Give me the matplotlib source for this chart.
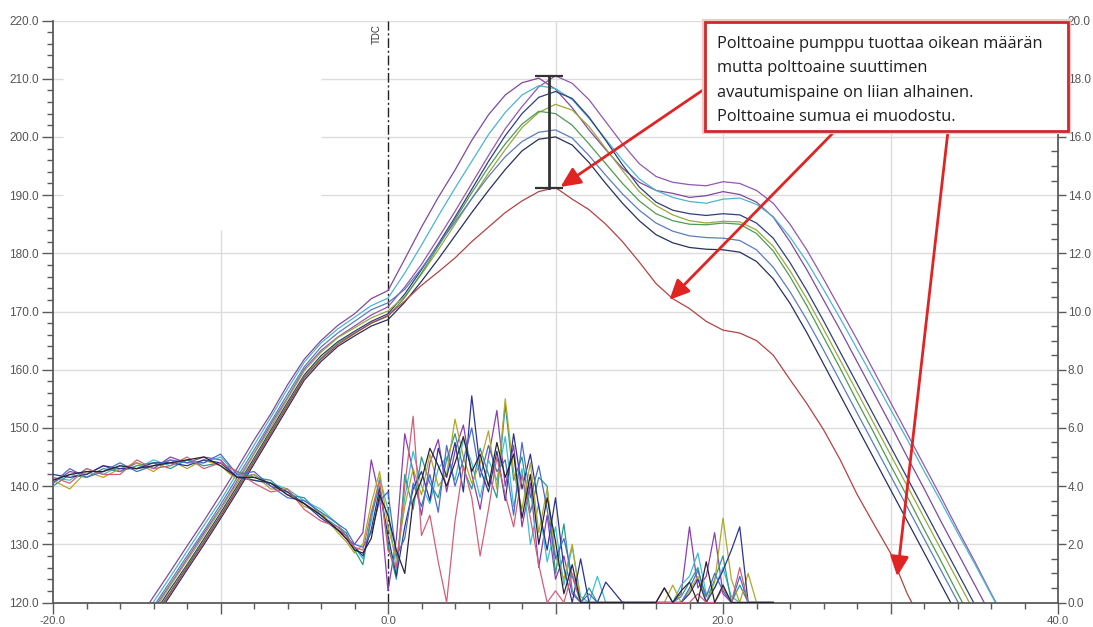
import numpy as np
import matplotlib
matplotlib.use("Agg")
import matplotlib.pyplot as plt
from matplotlib.ticker import MultipleLocator, FuncFormatter
from matplotlib.patches import Rectangle

plt.rcParams['font.family'] = ['Liberation Sans', 'DejaVu Sans']
plt.rcParams['axes.unicode_minus'] = False

# crank angle grid for the pressure traces (deg)
PX = list(range(-15, 38))

# cylinder pressure traces, left scale
p_purple = [116.6, 121.0, 125.3, 129.7, 134.0, 138.5, 143.1, 147.9, 152.4, 157.4, 161.8, 165.0, 167.6, 169.6, 172.2, 173.6,
            179.0, 184.5, 189.6, 194.3, 199.4, 203.8, 207.2, 209.3, 210.1, 208.2,
            205.0, 201.2, 197.8, 194.6, 192.2, 190.8, 190.3, 189.6, 189.9, 190.6,
            190.1, 188.8, 186.2, 182.0, 177.2, 172.0, 166.8, 161.4, 156.0, 150.6,
            145.0, 139.6, 134.0, 128.6, 123.2, 117.8, 112.4]
p_violet = [114.4, 118.9, 123.1, 127.5, 131.9, 136.2, 140.9, 145.6, 150.6, 155.2, 160.1, 163.3, 165.6, 167.5, 169.4, 170.8,
            174.2, 178.1, 182.6, 187.2, 192.0, 196.8, 201.4, 205.2, 208.6, 210.5,
            209.2, 206.4, 202.6, 198.8, 195.4, 193.2, 192.2, 191.8, 191.6, 192.3,
            192.0, 190.8, 188.6, 185.0, 180.6, 175.6, 170.4, 165.2, 159.8, 154.4,
            149.0, 143.6, 138.2, 132.6, 127.2, 121.6, 116.2]
p_cyan = [115.7, 120.1, 124.4, 128.8, 133.2, 137.5, 142.3, 147.0, 151.8, 156.7, 161.3, 164.6, 167.0, 169.0, 171.0, 172.3,
          176.6, 181.4, 186.4, 191.2, 195.8, 200.4, 204.2, 207.2, 208.8, 208.3,
          206.4, 203.2, 199.6, 196.0, 192.8, 190.8, 189.6, 188.9, 188.6, 189.3,
          189.5, 188.4, 186.3, 182.8, 178.6, 173.8, 168.8, 163.6, 158.4, 153.2,
          148.0, 142.6, 137.4, 132.0, 126.8, 121.4, 116.0]
p_navy = [113.6, 117.9, 122.3, 126.5, 130.9, 135.4, 140.0, 144.8, 149.6, 154.4, 159.1, 162.4, 164.8, 166.6, 168.3, 169.6,
          173.0, 177.2, 181.6, 186.2, 191.0, 195.8, 200.2, 204.0, 206.8, 207.8,
          206.6, 203.4, 199.4, 195.2, 191.4, 188.8, 187.4, 186.8, 186.5, 186.8,
          186.6, 185.2, 182.6, 178.4, 173.6, 168.4, 163.0, 157.6, 152.2, 146.8,
          141.4, 136.0, 130.6, 125.2, 119.8, 114.4, 109.0]
p_olive = [114.2, 118.4, 122.9, 127.2, 131.5, 136.0, 140.5, 145.5, 150.1, 155.0, 159.8, 163.0, 165.5, 167.2, 168.9, 170.1,
           172.6, 176.4, 180.6, 185.0, 189.4, 193.8, 197.8, 201.6, 204.2, 205.6,
           204.6, 201.8, 198.0, 194.2, 190.6, 188.2, 186.6, 185.6, 185.2, 185.5,
           185.4, 184.0, 181.2, 177.0, 172.2, 167.0, 161.6, 156.2, 150.8, 145.4,
           140.0, 134.6, 129.2, 123.8, 118.4, 113.0, 107.6]
p_green = [113.2, 117.6, 121.8, 126.2, 130.5, 135.0, 139.6, 144.4, 149.3, 154.0, 158.8, 162.0, 164.6, 166.3, 168.0, 169.2,
           172.4, 176.6, 181.2, 185.8, 190.4, 194.8, 198.8, 202.2, 204.4, 204.0,
           202.0, 198.8, 195.4, 192.0, 189.0, 186.8, 185.6, 185.0, 184.9, 185.2,
           185.0, 183.4, 180.4, 176.0, 171.0, 165.6, 160.2, 154.6, 149.2, 143.6,
           138.2, 132.6, 127.2, 121.6, 116.2, 110.6, 105.2]
p_steel = [115.0, 119.3, 123.6, 128.0, 132.3, 136.8, 141.5, 146.2, 151.0, 155.8, 160.5, 163.9, 166.3, 168.3, 170.3, 171.5,
           173.8, 177.4, 181.4, 185.4, 189.4, 193.2, 196.6, 199.2, 200.8, 201.2,
           199.8, 196.8, 193.4, 190.2, 187.4, 185.2, 183.8, 183.0, 182.7, 182.6,
           182.2, 180.6, 177.6, 173.4, 168.6, 163.4, 158.0, 152.6, 147.2, 141.8,
           136.4, 131.0, 125.6, 120.2, 114.8, 109.4, 104.0]
p_dark = [112.6, 116.9, 121.2, 125.6, 129.9, 134.4, 139.0, 143.8, 148.6, 153.4, 158.2, 161.4, 164.0, 165.8, 167.5, 168.6,
          171.6, 175.2, 179.0, 183.0, 187.0, 190.8, 194.4, 197.6, 199.6, 200.0,
          198.6, 195.6, 192.0, 188.6, 185.6, 183.2, 181.8, 181.0, 180.7, 180.6,
          180.2, 178.6, 175.6, 171.4, 166.4, 161.0, 155.6, 150.2, 144.8, 139.4,
          134.0, 128.6, 123.2, 117.8, 112.4, 107.0, 101.6]
p_low = [113.0, 117.3, 121.6, 126.0, 130.3, 134.8, 139.4, 144.2, 149.0, 153.8, 158.6, 161.8, 164.3, 166.2, 168.0, 169.3,
         171.8, 174.5, 176.8, 179.2, 182.0, 184.5, 187.0, 189.0, 190.6, 191.3,
         189.3, 187.5, 185.0, 182.0, 178.5, 174.8, 172.2, 170.5, 168.3, 166.8,
         166.3, 165.0, 162.5, 158.3, 154.2, 149.7, 144.5, 138.6, 133.5, 128.5,
         121.5, 116.0, 111.0, 106.0, 101.0, 96.0, 91.0]

# injector signal traces, right scale
NX = [-20, -19, -18, -17, -16, -15, -14, -13, -12, -11, -10, -9, -8, -7, -6, -5, -4, -3,
      -2.5, -2, -1.5, -1, -0.5, 0, 0.5, 1, 1.5, 2, 2.5, 3, 3.5, 4, 4.5, 5, 5.5, 6, 6.5, 7,
      7.5, 8, 8.5, 9, 9.5, 10, 10.5, 11, 11.5, 12, 12.5, 13,
      14, 15, 16, 16.5, 17, 17.5, 18, 18.5, 19, 19.5, 20, 20.5, 21, 21.5, 22, 23]

n_purple = [4.1, 4.5, 4.4, 4.7, 4.5, 4.8, 4.6, 5.0, 4.8, 5.0, 4.9, 4.3, 4.4, 4.0, 3.8, 3.4, 3.0, 2.5,
            2.2, 2.0, 2.4, 4.9, 3.6, 0.4, 2.2, 5.8, 4.5, 3.0, 4.8, 5.6, 3.8, 5.2, 6.1, 4.4, 3.2, 5.0, 6.6, 4.0,
            5.4, 2.6, 4.1, 1.2, 3.0, 0.8, 1.6, 0.3, 0.0, 0.0, 0.0, 0.0,
            0, 0, 0, 0.5, 0, 0.3, 2.6, 0.5, 0.9, 2.4, 0.3, 0, 0, 0, 0, 0]
n_cyan = [4.3, 4.2, 4.6, 4.4, 4.7, 4.6, 4.9, 4.7, 4.9, 4.8, 5.0, 4.4, 4.2, 4.1, 3.9, 3.5, 3.2, 2.7,
          2.3, 1.9, 1.5, 2.8, 4.3, 3.2, 1.1, 3.6, 5.2, 4.0, 3.4, 4.6, 5.0, 4.2, 5.6, 4.8, 3.6, 4.9, 4.2, 5.7,
          3.3, 4.6, 2.0, 3.4, 1.4, 2.6, 0.6, 1.9, 0.2, 0.0, 0.9, 0.0,
          0, 0, 0, 0, 0, 0.6, 0.9, 1.7, 0.3, 0.5, 1.2, 0.2, 0, 0, 0, 0]
n_teal = [4.0, 4.4, 4.3, 4.6, 4.5, 4.7, 4.8, 4.6, 4.9, 4.7, 4.8, 4.5, 4.3, 4.2, 3.7, 3.6, 3.0, 2.6,
          2.4, 1.8, 1.3, 3.0, 4.0, 2.0, 0.8, 4.4, 3.2, 5.0, 4.1, 3.6, 4.9, 5.8, 4.6, 3.9, 5.3, 4.4, 3.6, 6.8,
          4.2, 5.0, 3.1, 4.3, 4.0, 1.0, 2.7, 0.4, 0.0, 0.5, 0.0, 0.0,
          0, 0, 0, 0, 0, 0.2, 0.7, 1.2, 0, 0.8, 1.6, 0, 0.6, 0, 0, 0]
n_olive = [4.2, 3.9, 4.5, 4.3, 4.6, 4.8, 4.5, 4.9, 4.6, 4.9, 4.7, 4.2, 4.4, 3.9, 3.9, 3.3, 3.1, 2.4,
           2.1, 1.7, 2.0, 3.4, 4.5, 2.6, 1.5, 3.3, 4.6, 3.7, 5.1, 4.0, 4.4, 6.3, 5.0, 4.1, 4.8, 5.9, 3.9, 7.0,
           4.5, 3.2, 4.8, 2.4, 3.9, 1.6, 0.8, 2.0, 0.0, 0.0, 0.0, 0.0,
           0, 0, 0, 0, 0.6, 0, 0.4, 0.9, 0, 0.7, 2.9, 0.8, 0, 1.0, 0, 0]
n_navy = [4.4, 4.3, 4.4, 4.7, 4.6, 4.6, 4.8, 4.8, 4.7, 4.9, 4.8, 4.3, 4.2, 4.1, 3.8, 3.4, 2.9, 2.5,
          2.3, 1.9, 1.6, 2.5, 3.9, 2.3, 0.9, 2.6, 3.9, 4.5, 3.5, 5.3, 4.3, 5.5, 3.8, 7.1, 4.6, 3.8, 5.2, 3.5,
          5.8, 3.9, 5.1, 3.3, 1.8, 3.6, 1.2, 0.0, 1.5, 0.0, 0.0, 0.7,
          0, 0, 0, 0, 0, 0, 0.3, 0.8, 0, 0.5, 1.1, 1.8, 2.6, 0, 0, 0]
n_blue = [4.1, 4.6, 4.3, 4.5, 4.8, 4.5, 4.7, 4.9, 4.8, 4.8, 5.1, 4.4, 4.5, 4.0, 3.6, 3.5, 3.1, 2.7,
          2.5, 2.0, 1.9, 2.4, 3.5, 3.8, 1.6, 2.2, 4.1, 3.3, 4.4, 3.1, 5.4, 4.0, 4.9, 6.0, 4.3, 5.4, 4.5, 4.9,
          3.0, 5.5, 3.6, 4.7, 3.2, 1.5, 2.2, 0.9, 0.0, 0.3, 0.0, 0.0,
          0, 0, 0, 0, 0, 0, 0.5, 1.1, 0.2, 1.0, 0.4, 0, 0.9, 0, 0, 0]
n_pink = [4.3, 4.1, 4.6, 4.4, 4.4, 4.9, 4.6, 4.7, 5.0, 4.6, 4.8, 4.5, 4.1, 3.8, 3.9, 3.2, 2.8, 2.6,
          2.3, 1.9, 1.8, 3.1, 4.2, 1.8, 1.2, 4.0, 6.4, 2.3, 3.0, 1.4, 0.0, 2.8, 4.7, 3.6, 1.6, 3.2, 5.0, 3.7,
          2.6, 4.4, 2.9, 1.3, 0.0, 0.4, 0.0, 1.0, 0.0, 0.0, 0.0, 0.0,
          0, 0, 0, 0, 0, 0, 0, 0.3, 0, 0, 0.5, 0, 1.2, 0, 0, 0]
n_dark = [4.2, 4.4, 4.5, 4.5, 4.7, 4.6, 4.7, 4.8, 4.9, 5.0, 4.7, 4.3, 4.3, 4.1, 3.7, 3.4, 3.0, 2.5,
          2.2, 1.8, 1.7, 2.2, 3.7, 3.0, 1.8, 1.0, 3.5, 4.2, 5.3, 4.7, 4.0, 4.8, 5.7, 4.5, 5.1, 4.0, 5.5, 4.3,
          5.1, 2.9, 4.4, 2.0, 3.6, 2.1, 0.3, 1.3, 0.0, 0.0, 0.0, 0.0,
          0, 0, 0, 0.5, 0, 0.4, 0.7, 0, 1.4, 0, 0.6, 0, 0, 0, 0, 0]

NOTE_LINES = ["Polttoaine pumppu tuottaa oikean määrän",
              "mutta polttoaine suuttimen",
              "avautumispaine on liian alhainen.",
              "Polttoaine sumua ei muodostu."]
ARROW_TARGETS = [(10.3, 191.4), (16.8, 172.0), (30.4, 124.5)]
BAR_X = 9.6

pressure = [(p_purple, '#7e4a9c'), (p_violet, '#9258ae'), (p_cyan, '#4fb3cf'), (p_navy, '#2e3f7c'),
            (p_olive, '#98a83e'), (p_green, '#4e9a55'), (p_steel, '#5a7cc0'), (p_dark, '#27305e')]
signals = [(n_purple, '#8a3fb0'), (n_cyan, '#3cc0d0'), (n_teal, '#2a9a88'), (n_olive, '#b0a828'),
           (n_navy, '#2c3490'), (n_blue, '#4a6cc8'), (n_pink, '#d0607a'), (n_dark, '#2a2430')]

W, H = 1093, 627
fig = plt.figure(figsize=(W / 100, H / 100), dpi=100)
ax = fig.add_axes([53 / W, 1 - 602.5 / H, (1058 - 53) / W, (602.5 - 20.5) / H])
ax2 = ax.twinx()

ax.set_xlim(-20, 40)
ax.set_ylim(120, 220)
ax2.set_ylim(0, 20)

# grid (upper left part of the plot area is left empty)
gc = '#dcdcdc'
for y in [130, 140, 150, 160, 170, 180, 220]:
    ax.hlines(y, -20, 40, color=gc, lw=1, zorder=0.5)
for y in [190, 200, 210]:
    ax.hlines(y, -4.0, 40, color=gc, lw=1, zorder=0.5)
    ax.hlines(y, -20, -19.4, color=gc, lw=1, zorder=0.5)
for x in [10, 20, 30]:
    ax.vlines(x, 120, 220, color=gc, lw=1, zorder=0.5)
ax.vlines(-10, 120, 184, color=gc, lw=1, zorder=0.5)

# TDC marker
ax.axvline(0, color='#222222', lw=1, linestyle=(0, (7, 2, 1.5, 2)), zorder=1)
ax.text(-0.35, 219.3, 'TDC', rotation=90, ha='right', va='top', fontsize=7, color='#333333')

for vals, c in pressure:
    ax.plot(PX, vals, color=c, lw=0.9)
ax.plot(PX, p_low, color='#b04444', lw=0.9)

for vals, c in signals:
    ax2.plot(NX, vals, color=c, lw=0.9)

# pressure difference bar between the lowest and highest peaks
bar_lo = max(p_low)
bar_hi = max(max(v) for v, _ in pressure)
ax2.plot([BAR_X, BAR_X], [bar_lo, bar_hi], color='#333333', lw=2, transform=ax.transData)
ax2.plot([BAR_X, BAR_X], [bar_lo, bar_hi], ls='none', marker='_', ms=20, mew=1.6,
         color='#333333', transform=ax.transData)

# spines and ticks
sc = '#5a5a5a'
for s in ['top', 'right']:
    ax.spines[s].set_visible(False)
for s in ['top', 'left', 'bottom']:
    ax2.spines[s].set_visible(False)
for s in [ax.spines['left'], ax.spines['bottom'], ax2.spines['right']]:
    s.set_color(sc)
    s.set_linewidth(1.3)

ax.xaxis.set_major_locator(MultipleLocator(10))
ax.xaxis.set_minor_locator(MultipleLocator(2))
ax.xaxis.set_major_formatter(FuncFormatter(lambda v, p: f'{v:.1f}' if round(v) % 20 == 0 else ''))
ax.yaxis.set_major_locator(MultipleLocator(10))
ax.yaxis.set_minor_locator(MultipleLocator(2))
ax.yaxis.set_major_formatter(FuncFormatter(lambda v, p: f'{v:.1f}'))
ax2.yaxis.set_major_locator(MultipleLocator(2))
ax2.yaxis.set_minor_locator(MultipleLocator(0.5))
ax2.yaxis.set_major_formatter(FuncFormatter(lambda v, p: f'{v:.1f}'))

lc = '#555555'
ax.tick_params(axis='x', which='major', direction='out', length=8, width=1, color=sc, pad=2,
               labelsize=8.2, labelcolor=lc)
ax.tick_params(axis='x', which='minor', direction='out', length=4, width=1, color=sc)
ax.tick_params(axis='y', which='major', direction='out', length=8, width=1, color=sc, pad=2,
               labelsize=8.5, labelcolor=lc)
ax.tick_params(axis='y', which='minor', direction='out', length=4, width=1, color=sc)
ax2.tick_params(axis='y', which='major', direction='out', length=6, width=1, color=sc, pad=1,
                labelsize=8.5, labelcolor=lc)
ax2.tick_params(axis='y', which='minor', direction='in', length=5, width=1, color=sc)

# callout box with arrows to the weak trace
tails = [(703, 90), (835, 131), (948, 131)]
for (tx, ty), target in zip(tails, ARROW_TARGETS):
    ax2.annotate('', xy=target, xycoords=ax.transData,
                 xytext=(tx / W, 1 - ty / H), textcoords='figure fraction',
                 arrowprops=dict(arrowstyle='-|>,head_length=0.6,head_width=0.28',
                                 color='#e02424', lw=2, shrinkA=0, shrinkB=0,
                                 mutation_scale=20),
                 annotation_clip=False)

fig.add_artist(Rectangle((704 / W, 1 - 132 / H), (1069 - 704) / W, (132 - 21) / H,
                         transform=fig.transFigure, facecolor='none', edgecolor='#f2c8c8',
                         lw=3, zorder=5))
fig.add_artist(Rectangle((705 / W, 1 - 131 / H), (1068 - 705) / W, (131 - 22) / H,
                         transform=fig.transFigure, facecolor='white', edgecolor='#cc2a2a',
                         lw=2, zorder=6))
for i, line in enumerate(NOTE_LINES):
    fig.text(717 / W, 1 - (44 + 24.3 * i) / H, line, ha='left', va='center', fontsize=11.8,
             color='#1e1e1e', family=['Open Sans', 'DejaVu Sans'], zorder=7)

fig.savefig('out.png', dpi=100)
